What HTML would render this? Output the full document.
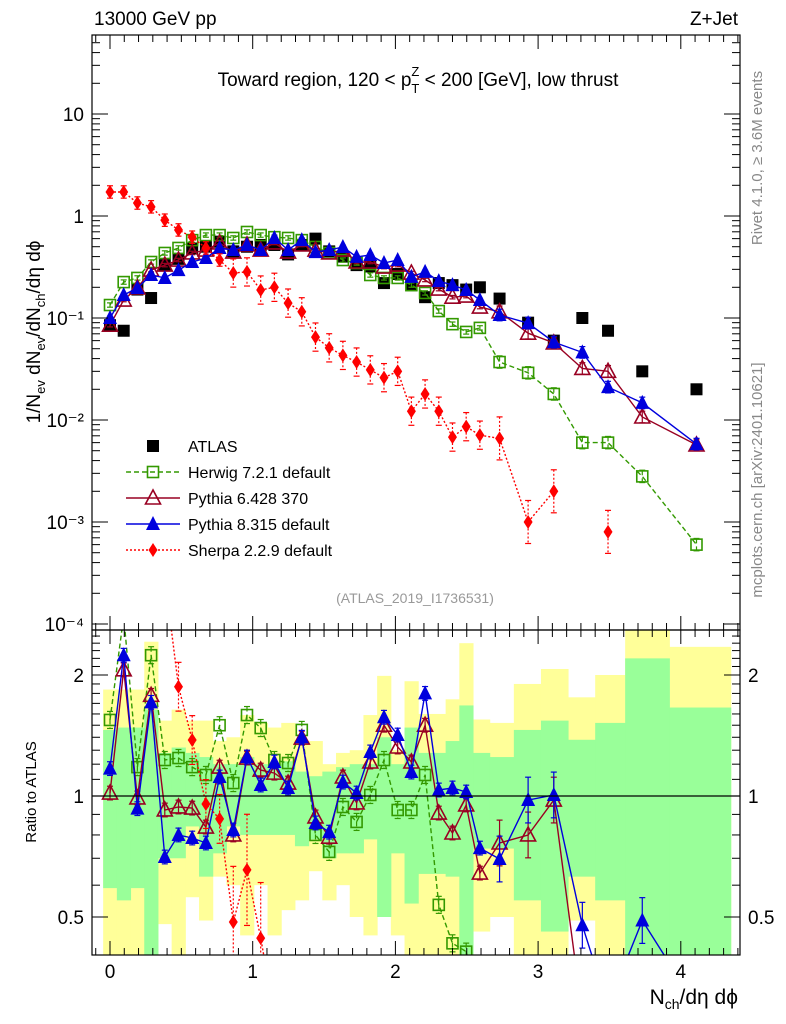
<!DOCTYPE html>
<html><head><meta charset="utf-8">
<style>
html,body{margin:0;padding:0;background:#fff;width:786px;height:1024px;overflow:hidden;}
svg{display:block;font-family:"Liberation Sans",sans-serif;}
</style></head>
<body>
<svg id="chart" width="786" height="1024" viewBox="0 0 786 1024" xmlns="http://www.w3.org/2000/svg">
<defs>
<clipPath id="clipMain"><rect x="92" y="35" width="648" height="595"/></clipPath>
<clipPath id="clipRatio"><rect x="92" y="630" width="648" height="325"/></clipPath>
</defs>
<g id="bands" clip-path="url(#clipRatio)"></g>
<g id="mainSeries" clip-path="url(#clipMain)"></g>
<g id="ratioSeries" clip-path="url(#clipRatio)"></g>
<g id="axes"></g>
<text x="94" y="25" font-size="19">13000 GeV pp</text>
<text x="738" y="25" font-size="19" text-anchor="end">Z+Jet</text>
<text x="418" y="86" font-size="19" text-anchor="middle">Toward region, 120 &lt; p<tspan font-size="13" dy="7">T</tspan><tspan font-size="13" dx="-8" dy="-17">Z</tspan><tspan dy="10"> &lt; 200 [GeV], low thrust</tspan></text>
<text transform="translate(40,332) rotate(-90)" font-size="19" text-anchor="middle">1/N<tspan font-size="13" dy="5">ev</tspan><tspan dy="-5"> dN</tspan><tspan font-size="13" dy="5">ev</tspan><tspan dy="-5">/dN</tspan><tspan font-size="13" dy="5">ch</tspan><tspan dy="-5">/dη dϕ</tspan></text>
<text transform="translate(762,158) rotate(-90)" font-size="15" fill="#888" text-anchor="middle">Rivet 4.1.0, ≥ 3.6M events</text>
<text transform="translate(762,480) rotate(-90)" font-size="15" fill="#888" text-anchor="middle">mcplots.cern.ch [arXiv:2401.10621]</text>
<text x="415" y="603" font-size="14" fill="#999" text-anchor="middle">(ATLAS_2019_I1736531)</text>
<text transform="translate(36,792) rotate(-90)" font-size="15" text-anchor="middle">Ratio to ATLAS</text>
<text x="738" y="1004" font-size="21" text-anchor="end">N<tspan font-size="14" dy="5">ch</tspan><tspan dy="-5">/dη dϕ</tspan></text>
<g id="legend"></g>
</svg>
<script>
// ---- data ----
const xVals = [0,0.096,0.192,0.288,0.384,0.48,0.576,0.672,0.768,0.864,0.96,1.056,1.152,1.248,1.344,1.44,1.536,1.632,1.728,1.824,1.92,2.016,2.112,2.208,2.304,2.4,2.496,2.592,2.73,2.93,3.11,3.31,3.49,3.73,4.11];
const atlasVals = [0.085,0.075,0.19,0.157,0.33,0.38,0.48,0.5,0.56,0.45,0.5,0.52,0.52,0.42,0.52,0.6,0.45,0.4,0.33,0.32,0.22,0.27,0.21,0.16,0.22,0.21,0.19,0.2,0.155,0.09,0.06,0.1,0.075,0.03,0.02];
const herwigVals = [0.134,0.225,0.247,0.354,0.434,0.486,0.58,0.65,0.65,0.609,0.697,0.65,0.62,0.609,0.58,0.497,0.434,0.37,0.346,0.264,0.247,0.247,0.21,0.176,0.117,0.087,0.073,0.08,0.037,0.029,0.018,0.006,0.006,0.0028,0.0006];
const py6Vals = [0.085,0.15,0.197,0.295,0.33,0.37,0.434,0.464,0.544,0.443,0.52,0.464,0.544,0.443,0.52,0.464,0.434,0.464,0.354,0.354,0.316,0.33,0.276,0.236,0.192,0.16,0.164,0.128,0.115,0.071,0.057,0.032,0.03,0.0107,0.0057];
const py8Vals = [0.1,0.168,0.197,0.264,0.247,0.295,0.354,0.387,0.486,0.464,0.52,0.464,0.608,0.464,0.58,0.443,0.464,0.497,0.397,0.415,0.346,0.37,0.253,0.283,0.23,0.21,0.188,0.15,0.107,0.089,0.058,0.046,0.021,0.0147,0.0058];
const sherpaVals = [1.72,1.72,1.34,1.23,0.91,0.73,0.62,0.486,0.37,0.276,0.283,0.188,0.2,0.14,0.115,0.065,0.051,0.043,0.037,0.031,0.026,0.03,0.0122,0.018,0.0122,0.0068,0.0086,0.0071,0.0066,0.001,0.002,null,0.0008,null,null];
const herwigRatio = [1.546,2.8,1.18,2.24,1.229,1.243,1.18,1.128,1.5,1.077,1.59,1.476,1.229,1.208,1.46,0.8,0.726,0.939,0.862,1.006,1.229,0.923,0.923,1.128,0.536,0.43,0.41,0.2,0.2,0.2,0.2,0.2,0.2,0.2,0.2];
const py6Ratio = [1.017,2.06,0.989,1.78,0.923,0.939,0.933,0.837,1.18,0.8,1.243,1.16,1.14,1.077,1.394,0.887,0.79,1.115,0.961,1.215,1.5,1.324,1.215,1.5,0.907,0.809,0.95,0.643,0.764,0.8,0.977,0.2,0.34,0.2,0.2];
const py8Ratio = [1.17,2.24,0.93,1.71,0.705,0.8,0.786,0.764,1.115,0.823,1.25,1.065,1.215,1.047,1.4,0.857,0.813,1.083,1.017,1.287,1.57,1.418,1.147,1.8,1.035,1.047,1.023,0.742,0.697,0.977,1.006,0.477,0.3,0.49,0.3];
const sherpaRatio = [6,6,6,5,3.5,1.87,1.378,0.955,0.877,0.486,0.655,0.443,0.2,0.2,0.2,0.2,0.2,0.2,0.2,0.2,0.2,0.2,0.2,0.2,0.2,0.2,0.2,0.2,0.2,0.2,0.2,null,0.2,null,null];
const yellowHi = [1.84,1.84,1.84,2.42,1.54,1.64,1.54,1.54,1.37,1.4,1.59,1.52,1.48,1.52,1.37,1.37,1.2,1.28,1.3,1.59,1.99,1.3,1.93,1.6,1.6,1.74,2.4,1.55,1.52,1.9,2.07,1.76,2.0,2.59,2.35];
const yellowLo = [0.4,0.4,0.4,0.4,0.48,0.4,0.56,0.49,0.63,0.6,0.45,0.6,0.45,0.52,0.55,0.65,0.55,0.6,0.5,0.45,0.5,0.45,0.4,0.4,0.4,0.4,0.4,0.46,0.5,0.4,0.4,0.49,0.4,0.4,0.4];
const greenHi = [1.46,1.48,1.48,1.64,1.28,1.32,1.28,1.25,1.2,1.2,1.25,1.2,1.2,1.22,1.15,1.12,1.15,1.18,1.2,1.2,1.4,1.2,1.48,1.28,1.28,1.37,1.68,1.28,1.25,1.46,1.54,1.38,1.52,2.2,1.66];
const greenLo = [0.59,0.55,0.59,0.4,0.7,0.7,0.84,0.63,0.72,0.84,0.8,0.8,0.8,0.8,0.75,0.78,0.7,0.72,0.72,0.78,0.5,0.72,0.54,0.64,0.64,0.63,0.4,0.74,0.74,0.55,0.46,0.63,0.55,0.4,0.4];
const xTickLabels = ["0","1","2","3","4"];
const yTickLabels = ["10\u207B\u2074","10\u207B\u00B3","10\u207B\u00B2","10\u207B\u00B9","1","10"];
const ratioTickLabels = ["0.5","1","2"];

// ---- axes ----
const NS = "http://www.w3.org/2000/svg";
const X0 = 110, XS = 142.7;
const xPx = v => X0 + v * XS;
const yMain = v => Math.min(1015, 216 - 102 * Math.log10(v));
const yRatio = r => Math.max(560, Math.min(1015, 796 - 121 * Math.log2(r)));
function mk(tag, attrs, parent) {
  const e = document.createElementNS(NS, tag);
  for (const k in attrs) e.setAttribute(k, attrs[k]);
  parent.appendChild(e);
  return e;
}
const axes = document.getElementById('axes');
const bands = document.getElementById('bands');
const mainG = document.getElementById('mainSeries');
const ratioG = document.getElementById('ratioSeries');
const legend = document.getElementById('legend');

// bands
const edges = [];
edges.push(xVals[0] - (xVals[1] - xVals[0]) / 2);
for (let i = 0; i < xVals.length - 1; i++) edges.push((xVals[i] + xVals[i + 1]) / 2);
edges.push(4.35);
for (let i = 0; i < xVals.length; i++) {
  const yb = mk('rect', {x: xPx(edges[i]), y: yRatio(yellowHi[i]), width: xPx(edges[i+1]) - xPx(edges[i]) + 0.5, height: yRatio(yellowLo[i]) - yRatio(yellowHi[i]), fill: '#ffff99'}, bands);
  
  
}
for (let i = 0; i < xVals.length; i++) {
  const gb = mk('rect', {x: xPx(edges[i]), y: yRatio(greenHi[i]), width: xPx(edges[i+1]) - xPx(edges[i]) + 0.5, height: yRatio(greenLo[i]) - yRatio(greenHi[i]), fill: '#99ff99'}, bands);
  
  
}
mk('line', {x1: 92, x2: 740, y1: yRatio(1), y2: yRatio(1), stroke: '#000', 'stroke-width': 1.2}, axes);

// frames
const f1 = mk('rect', {x: 92, y: 35, width: 648, height: 595, fill: 'none', stroke: '#000', 'stroke-width': 1.2}, axes);


const f2 = mk('rect', {x: 92, y: 630, width: 648, height: 325, fill: 'none', stroke: '#000', 'stroke-width': 1.2}, axes);



// x ticks
for (let t = -1; t <= 44; t++) {
  const v = t / 10, x = xPx(v);
  if (x < 92 || x > 740) continue;
  const major = t % 10 === 0, len = major ? 14 : 7;
  [[35, 1], [630, -1], [630, 1], [955, -1]].forEach(([y, d]) => {
    mk('line', {x1: x, x2: x, y1: y, y2: y + d * len, stroke: '#000', 'stroke-width': 1}, axes);
  });
}
xTickLabels.forEach((lab, i) => {
  const t = mk('text', {x: xPx(i), y: 978, 'font-size': 19, 'text-anchor': 'middle'}, axes);
  t.textContent = lab;
  
  
});
// main y ticks (log)
for (let e = -4; e <= 1; e++) {
  for (let m = 1; m <= 9; m++) {
    const v = m * Math.pow(10, e), y = yMain(v);
    if (y < 35 || y > 630) continue;
    const len = m === 1 ? 16 : 8;
    mk('line', {x1: 92, x2: 92 + len, y1: y, y2: y, stroke: '#000'}, axes);
    mk('line', {x1: 740, x2: 740 - len, y1: y, y2: y, stroke: '#000'}, axes);
  }
}
yTickLabels.forEach((lab, i) => {
  const e = i - 4;
  const t = mk('text', {x: 84, y: yMain(Math.pow(10, e)) + 7, 'font-size': 19, 'text-anchor': 'end'}, axes);
  t.textContent = lab;
  
  
});
// ratio ticks
[0.4,0.5,0.6,0.7,0.8,0.9,1,1.1,1.2,1.3,1.4,1.5,1.6,1.7,1.8,1.9,2,2.1,2.2,2.3,2.4,2.5].forEach(r => {
  const y = yRatio(r);
  if (y < 630 || y > 955) return;
  const major = (r === 0.5 || r === 1 || r === 2);
  const len = major ? 16 : 8;
  mk('line', {x1: 92, x2: 92 + len, y1: y, y2: y, stroke: '#000'}, axes);
  mk('line', {x1: 740, x2: 740 - len, y1: y, y2: y, stroke: '#000'}, axes);
});
ratioTickLabels.forEach(lab => {
  const r = parseFloat(lab);
  const t1 = mk('text', {x: 84, y: yRatio(r) + 7, 'font-size': 19, 'text-anchor': 'end'}, axes);
  t1.textContent = lab;
  
  
  const t2 = mk('text', {x: 748, y: yRatio(r) + 7, 'font-size': 19}, axes);
  t2.textContent = lab;
  
  
});

// markers
function marker(type, x, y, color, parent) {
  let e;
  if (type === 'square') e = mk('rect', {x: x - 6, y: y - 6, width: 12, height: 12, fill: color}, parent);
  else if (type === 'osquare') e = mk('rect', {x: x - 5.5, y: y - 5.5, width: 11, height: 11, fill: 'none', stroke: color, 'stroke-width': 1.6}, parent);
  else if (type === 'otri') e = mk('polygon', {points: `${x},${y-8} ${x-7.5},${y+6} ${x+7.5},${y+6}`, fill: 'none', stroke: color, 'stroke-width': 1.6}, parent);
  else if (type === 'tri') e = mk('polygon', {points: `${x},${y-8} ${x-7},${y+6} ${x+7},${y+6}`, fill: color}, parent);
  else e = mk('polygon', {points: `${x},${y-7} ${x-4.5},${y} ${x},${y+7} ${x+4.5},${y}`, fill: color}, parent);
  return e;
}
const series = [
  {name: 'herwig', vals: herwigVals, ratio: herwigRatio, color: '#339900', type: 'osquare', dash: '5,3', label: 'Herwig 7.2.1 default', err: 0.05},
  {name: 'pythia6', vals: py6Vals, ratio: py6Ratio, color: '#990022', type: 'otri', dash: '', label: 'Pythia 6.428 370', err: 0.04},
  {name: 'pythia8', vals: py8Vals, ratio: py8Ratio, color: '#0000dd', type: 'tri', dash: '', label: 'Pythia 8.315 default', err: 0.04},
  {name: 'sherpa', vals: sherpaVals, ratio: sherpaRatio, color: '#ff0000', type: 'diamond', dash: '2,2', label: 'Sherpa 2.2.9 default', err: 0.15}
];
function drawSeries(s, vals, yf, parent, suffix) {
  let d = '';
  let pen = false;
  vals.forEach((v, i) => {
    if (v == null) { pen = false; return; }
    d += (pen ? 'L' : 'M') + xPx(xVals[i]).toFixed(1) + ',' + yf(v).toFixed(1);
    pen = true;
  });
  const p = mk('path', {d: d, fill: 'none', stroke: s.color, 'stroke-width': 1.4, 'stroke-dasharray': s.dash}, parent);
  
  
  vals.forEach((v, i) => {
    if (v == null) return;
    const x = xPx(xVals[i]);
    const yc = yf(v);
    if (yc > 1000 || yc < 20) return;
    const e = (s.err + (i > 27 ? 0.1 : 0)) * (s.name === 'sherpa' && i > 8 ? 2.5 : 1);
    const y1 = yf(v * (1 + e)), y2 = yf(v / (1 + e));
    mk('line', {x1: x, x2: x, y1: y1, y2: y2, stroke: s.color, 'stroke-width': 1.2, 'stroke-dasharray': s.dash}, parent);
    mk('line', {x1: x - 3, x2: x + 3, y1: y1, y2: y1, stroke: s.color, 'stroke-width': 1.2}, parent);
    mk('line', {x1: x - 3, x2: x + 3, y1: y2, y2: y2, stroke: s.color, 'stroke-width': 1.2}, parent);
    const m = marker(s.type, x, yc, s.color, parent);
    
    
  });
}
atlasVals.forEach((v, i) => {
  const m = marker('square', xPx(xVals[i]), yMain(v), '#000', mainG);
  
  
});
series.forEach(s => drawSeries(s, s.vals, yMain, mainG, 'main'));
series.forEach(s => drawSeries(s, s.ratio, yRatio, ratioG, 'ratio'));

// legend
const lx = 153, ly = [446, 472, 498, 524, 550];
const la = marker('square', lx, ly[0], '#000', legend);


const lt0 = mk('text', {x: 188, y: ly[0] + 6, 'font-size': 16}, legend);
lt0.textContent = 'ATLAS';


series.forEach((s, k) => {
  const y = ly[k + 1];
  mk('line', {x1: 126, x2: 180, y1: y, y2: y, stroke: s.color, 'stroke-width': 1.4, 'stroke-dasharray': s.dash}, legend);
  const m = marker(s.type, lx, y, s.color, legend);
  
  
  const t = mk('text', {x: 188, y: y + 6, 'font-size': 16}, legend);
  t.textContent = s.label;
  
  
});
</script>
</body></html>
